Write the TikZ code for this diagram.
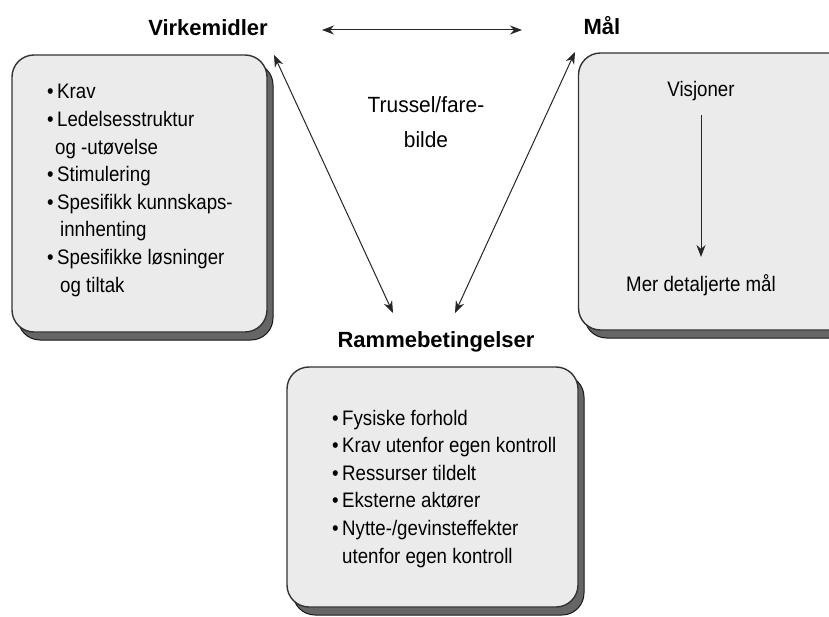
\documentclass[tikz,border=0pt]{standalone}
\usepackage{fontspec}
\setmainfont{Liberation Sans}
\newfontfamily\bodyfont{Liberation Sans}[FakeStretch=0.89]
\newfontfamily\midfont{Liberation Sans}[FakeStretch=0.95]
\usetikzlibrary{arrows.meta,shadows}
\newcommand\bul{\makebox[10pt][l]{•}}
\begin{document}
\begin{tikzpicture}[x=1pt,y=-1pt,
  box/.style={draw=black!80, line width=1.4pt, fill=black!8, rounded corners=22pt,
    copy shadow={shadow xshift=6pt, shadow yshift=-8pt, fill=black!60, draw=black!90, line width=1pt}},
  title/.style={font=\fontsize{22}{26}\selectfont\bfseries, anchor=base, inner sep=0pt},
  body/.style={font=\bodyfont\fontsize{21}{26}\selectfont, anchor=base west, inner sep=0pt},
  bodyc/.style={font=\bodyfont\fontsize{21}{26}\selectfont, anchor=base, inner sep=0pt},
  mid/.style={font=\midfont\fontsize{22}{26}\selectfont, anchor=base, inner sep=0pt},
  arr/.style={{Stealth[length=12pt,width=9pt]}-{Stealth[length=12pt,width=9pt]}, line width=1pt, draw=black!85},
  arrone/.style={-{Stealth[length=12pt,width=9pt]}, line width=1pt, draw=black!85},
]
\useasboundingbox (0,0) rectangle (829,617);
\fill[white] (0,0) rectangle (829,617);

% boxes
\node[box, minimum width=255pt, minimum height=277pt] (lbox) at (139.5,193.5) {};
\node[box, minimum width=275pt, minimum height=277pt] (rbox) at (716,191.5) {};
\node[box, minimum width=291pt, minimum height=240pt] (bbox) at (432.5,487) {};

% titles
\node[title] (tv) at (208,36) {Virkemidler};
\node[title] (tm) at (602,35) {Mål};
\node[title] (tr) at (436,347) {Rammebetingelser};
\node[mid] (tt1) at (426,113) {Trussel/fare-};
\node[mid] (tt2) at (426,148) {bilde};

% left box text
\node[body] (l1) at (47,99) {\bul Krav};
\node[body] (l2) at (47,126.6) {\bul Ledelsesstruktur};
\node[body] (l3) at (55,154.2) {og -utøvelse};
\node[body] (l4) at (47,181.8) {\bul Stimulering};
\node[body] (l5) at (47,209.4) {\bul Spesifikk kunnskaps-};
\node[body] (l6) at (60,237) {innhenting};
\node[body] (l7) at (47,264.6) {\bul Spesifikke løsninger};
\node[body] (l8) at (60,292.2) {og tiltak};

% right box text
\node[bodyc] (v1) at (701,97) {Visjoner};
\node[bodyc] (v2) at (701,292) {Mer detaljerte mål};
\coordinate (va) at (701,115);
\coordinate (vb) at (701,257);
\draw[arrone] (va) -- (vb);

% bottom box text
\node[body] (b1) at (332,425) {\bul Fysiske forhold};
\node[body] (b2) at (332,452.6) {\bul Krav utenfor egen kontroll};
\node[body] (b3) at (332,480.2) {\bul Ressurser tildelt};
\node[body] (b4) at (332,507.8) {\bul Eksterne aktører};
\node[body] (b5) at (332,535.4) {\bul Nytte-/gevinsteffekter};
\node[body] (b6) at (342,563) {utenfor egen kontroll};

% arrows
\coordinate (h1) at (322,30);
\coordinate (h2) at (522,30);
\coordinate (d1a) at (274,55);
\coordinate (d1b) at (393,313);
\coordinate (d2a) at (575,52);
\coordinate (d2b) at (455,313);
\draw[arr] (h1) -- (h2);
\draw[arr] (d1a) -- (d1b);
\draw[arr] (d2a) -- (d2b);
\end{tikzpicture}
\end{document}
